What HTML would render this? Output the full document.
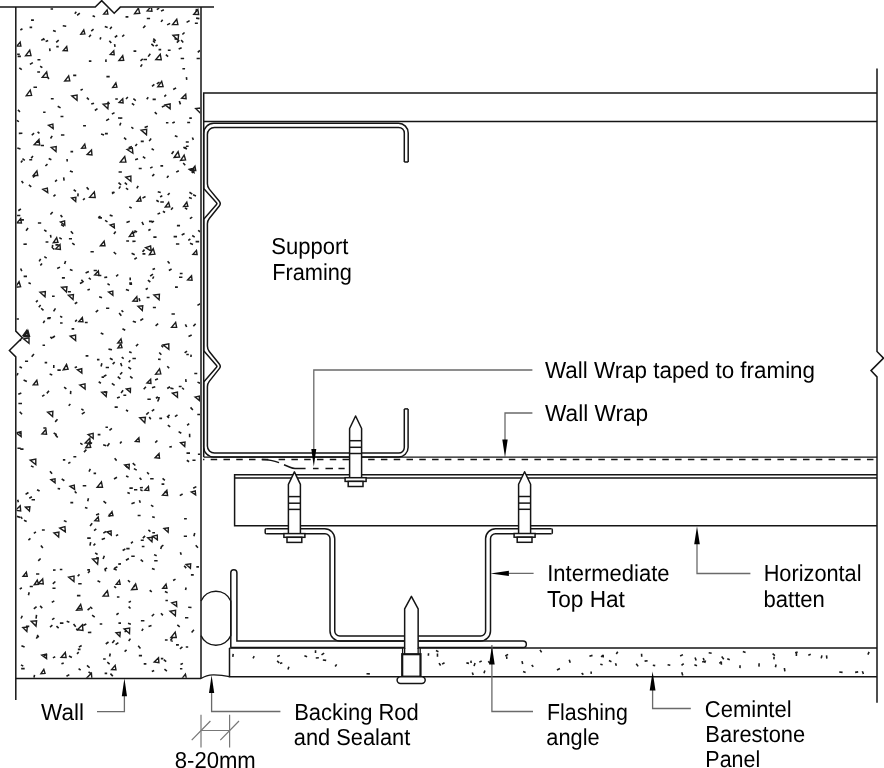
<!DOCTYPE html>
<html><head><meta charset="utf-8"><style>
html,body{margin:0;padding:0;background:#fff;}
body{width:884px;height:768px;overflow:hidden;}
svg{display:block;filter:grayscale(1);}
text{font-family:"Liberation Sans",sans-serif;font-size:23.1px;fill:#000;text-rendering:geometricPrecision;}
</style></head><body>
<svg width="884" height="768" viewBox="0 0 884 768">
<g fill="none" stroke="#151515" stroke-linecap="butt" stroke-linejoin="miter">
<clipPath id="wc"><path d="M16.6,7.9 V331.1 L22.3,337.7 L10.4,350.5 L16.6,356.9 V677.7 H200.2 V7.9 Z"/></clipPath>
<g clip-path="url(#wc)"><path d="M98.69,381.77L100.88,383.21M111.89,428.47L109.47,430.31M178.59,431.64L181.29,433.25M167.81,50.26L170.6,50.26M124.05,137.68L126.24,139.66M69.34,674.61L66.47,676.25M111.77,26.8L109.94,29M190.9,574.85L193.75,574.85M147.8,288.2L145.65,289.48M78.74,652.14L76.99,653.8M100.75,333.1L103.41,334.27M88.87,271.42L85.59,272.9M22.39,133.29L18.8,133.33M56.96,179.97L55.08,181.6M53.66,432.99L56.74,434.76M103.97,391.71L107.07,393.06M60.93,134.98L64.39,134.98M125.89,289.43L129.01,290.48M89.88,289.15L87.45,289.9M103.16,444.64L106.26,445.75M28.47,282.84L30.84,283.65M41.18,308.23L43.48,310.33M185.37,324.29L186.66,326.98M152.42,221.34L148.94,221.35M150.15,478.77L153.63,478.77M174.98,287.08L177.84,287.08M17.64,56.33L20.91,56.33M88.46,498.28L87.7,501.2M109.72,215.14L112.6,215.95M128.01,623.33L130.89,624.25M153.34,237.15L156.54,237.15M51.99,296.27L54.66,296.27M184.02,147.75L186.99,149.09M189.42,192.26L192.28,194.09M85.61,355.86L88.4,355.86M169.65,193.1L167.67,195.03M162.65,19.71L161.04,21.86M44.28,38.46L41.28,40.35M140.74,141.36L143.78,141.36M22.45,158.66L24.79,160.34M160.96,613.16L162.88,615.39M54.29,600.85L51.77,602.39M137.04,144.06L135.34,146.09M182.91,663.34L180.49,664.56M146.78,18.47L150.1,18.47M104.77,26.5L107.64,27.51M140.88,620.81L144.41,620.81M108.52,641.99L105.77,643.98M117.99,117.95L121.53,117.95M177.48,414.82L174.96,416.6M53.79,365.01L53.76,368.03M90.65,542.19L89.96,545.64M99.71,624L102.26,624M95.15,552.91L97.57,554.52M21.54,181.05L23.23,183.12M141.98,221.94L143.48,225.01M129.41,488.14L132.8,488.14M128.3,367.05L131.08,369.04M127.92,580.23L129.97,582.12M73.56,623.97L75.72,626.69M40.14,66.27L42.37,67.67M132.87,541.59L130.97,543.28M109.55,513.72L109.53,516.69M20.58,516.8L22.32,518.75M55.6,570.06L53.04,570.14M142.75,58.99L140.49,60.84M125.55,16.86L128.39,16.86M86.3,623.95L83.19,625.51M162.54,478.48L164.88,480.37M195.71,545.16L197.95,547.69M90.14,606.84L92.32,608.74M150.31,53.76L148.18,56.64M181.17,39.94L183.22,42.39M120.67,363.07L121.8,366.19M194.85,23.27L197.86,23.27M157.41,440.45L155.23,442.59M110.26,653.52L109.61,656.51M138.21,645.82L140.44,648.43M114.62,407.1L117.74,407.1M84.77,198.32L83.03,200.01M159.07,398.32L157.66,401.49M153.01,40.44L154.89,42.67M103.12,659.05L105.69,659.05M193.47,170.97L191.87,173.08M24.97,361.3L28.09,361.3M132.74,463.06L135.35,465.47M152.59,166.88L150.16,168.12M127.39,492.55L129.8,493.6M63.72,663.12L61.4,663.75M62.76,25.79L66.23,26.21M47.49,164.11L45.39,165.99M151.94,568.46L154.67,569.53M155,268.41L152.52,269.58M154.17,560.7L157.62,560.7M32.83,62.68L29.91,64.4M17.07,215.49L20.34,215.49M145.52,196.43L142.47,198.12M77.27,302.28L74.74,303.75M162.89,211.24L165.03,212.53M170.12,23.38L167.12,24.89M117.41,566.75L114.43,568.32M56.25,46.62L58.73,46.62M118.17,534.62L115.97,535.81M131.89,103.3L134.2,105.2M184.55,233.53L181.68,234.94M105.69,367.48L108.99,367.48M195.61,241.59L199.16,241.59M132.42,358.46L135.92,358.46M60.51,116.55L63.42,116.55M68.97,655.99L71.91,657.55M49.66,48.33L50.02,51.08M52.01,247.49L54.32,249.28M178.99,277.26L182.41,277.26M107.19,277.14L104.24,277.56M58.71,40.16L56.18,42.34M25.92,626.33L29.28,626.33M148.81,412.28L146.25,414.65M166.12,94.78L164.34,96.65M159.17,8.16L156.78,9.66M130.28,360.25L128.76,362.14M52.19,135.88L50.53,138.45M114.52,112.63L111.87,114.17M197.89,454.32L201.11,454.32M152.29,532.78L154.98,532.78M119.14,313.1L121.32,315.82M43.31,427.98L46.37,427.98M34.03,133.16L31.79,135.27M150.55,229.22L148.36,230.54M131.33,127.2L133.4,128.63M21.17,668.58L24.68,668.58M40.87,145.45L44.02,145.45M149.29,417.02L150.76,419.3M52.69,212.01L50.4,214.46M166.99,416.08L169.03,418.02M107.61,101.63L109.54,104.03M20.27,449.17L23.51,449.17M76.12,628.81L78.37,630.27M122.23,372.21L120.15,374.54M40.63,558.48L38.26,560.91M49.65,374.08L52.27,374.95M139.37,500.3L140.31,502.71M93.56,29.15L91.24,31.09M64.13,387.1L66.37,388.93M106.4,76.59L109.7,76.59M104.63,673.4L107.17,673.4M37.27,634.95L38.68,637.35M28.45,492.46L25.56,494.37M178.81,170.77L176.19,172.16M36.54,614.97L36.03,618.54M149.66,590.23L151.81,591.8M155.28,386.67L151.98,387.71M121.47,310.35L123.3,312.01M180.37,552.22L181.25,554.85M98.51,217.92L101.97,217.92M55.36,581.49L52.82,583.86M18.88,432.29L20.99,433.85M179.33,40.27L176.82,42.63M148.26,97.17L146.75,99.3M176.12,87.9L173.2,89.54M86.38,449.63L83.97,452.14M48.7,158.57L51.38,159.75M114.72,362.1L112.64,364.13M122.36,118.01L119.74,118.11M179.96,668.8L182.36,668.8M181.63,47.67L178.68,48.9M159.21,352.57L161.36,354.82M159.5,82.04L156.77,83.96M160.42,165.84L163.13,165.84M55.24,656.84L52.88,657.87M20,338.68L20.51,341.11M182.16,387.73L183.92,389.45M93.59,473.39L96.09,473.39M165.93,122.8L168.4,122.8M90.49,251.8L93.8,251.8M127.87,97.04L126,98.97M179.3,101.01L180.47,104.38M142.94,487.57L139.89,487.8M60.16,316.18L62.29,317.39M89.47,441.99L92.05,443.43M89.83,571.02L87.98,572.98M163.41,545.16L160.93,546.8M105.47,427.23L107.95,427.23M144.53,249.61L142.5,251.84M121.62,441.48L120.04,443.5M59.83,569.51L62.33,569.51M176.91,225.59L180.04,225.59M104.93,133.59L107.84,133.59M115.26,98.99L117.84,98.99M55.49,194.68L53.47,196.42M68.91,238.78L71.99,238.78M163.83,659.69L166.18,661.67M82.78,89.12L80.55,90.26M93.65,270.54L96.89,270.54M56.46,626.11L58.65,628.2M154.07,613.98L151.78,616.27M20.63,268.53L21.81,271.13M172.86,207.61L171.07,209.78M178.76,386.46L181.62,386.46M77.91,608.41L81.05,608.71M129.18,282.93L132.04,282.93M184.54,32.49L182.38,34.53M19.7,411.71L22.02,414.34M196.53,8.78L196.07,11.9M121,563.87L118.24,564.14M147.12,472.14L148.91,474.29M141.79,546.54L144.48,546.54M61.1,224.47L64.14,226.37M165.44,600.48L167.89,600.48M129.4,284.1L132.1,284.1M131.6,253.32L134.73,254.68M170.04,386.73L167.21,388.54M40.67,258.9L39.16,261.46M145.09,535.91L142.85,538.13M91.32,632.37L87.88,632.49M52.67,244.79L52.26,248.16M174.79,122.01L172.35,123.1M147.88,280.16L150.32,282M165.03,105.63L161.83,106.92M97.47,108.7L94.87,110.48M67.07,158.95L67.22,161.53M16.59,516.31L20.02,517.38M52.47,588.19L55.54,588.19M57.5,419.31L55.17,421.84M200.49,303.62L197.42,305.38M114.64,458.33L116.63,460.6M17.32,148.08L20.51,149.09M153.01,274.09L150.14,276.13M104.78,568.43L105.66,571.39M60,267.15L57.17,268.53M100.48,216.06L98.14,217.61M151.58,148.56L153.86,150.21M44.27,256.62L46.69,258.18M76.97,366.85L74.7,367.84M123.36,395.21L126.25,395.21M147.82,126.33L144.6,127.59M157.99,359.24L160.64,359.33M130.92,601.27L128.63,602.38M150.99,505.05L153.37,506.61M117.25,35.5L114.81,37.44M127.04,630.8L124.57,631.69M101.55,377.08L104.08,377.08M52.4,625.18L50.02,627.03M199.88,50.32L197.81,52.41M114.11,586.32L116.18,587.78M99.15,513.85L96.07,515.1M118.64,613.07L116.39,614.74M185.76,647.07L188.2,647.07M143.25,318.63L140.32,320.45M151.13,138.54L149.2,141.14M170.38,640.29L172.76,641.37M124.26,34.74L122.21,36.59M17.15,54.18L19.79,54.18M28.89,184.91L31.26,186.77M190.38,239L188.27,240.42M176.02,644.9L178.88,644.9M154.22,409.26L151.83,411.23M138.21,185.79L136.8,188.32M40.11,605.92L42.26,608.09M36.55,606.59L33.84,608.95M164.9,591.55L167.64,592.69M73.37,456.81L76.29,456.81M57.41,370.17L60.76,370.17M186.31,354.45L188.82,354.45M163.84,9.69L160.99,11.14M195.62,323.66L193.35,326.23M188.19,607.18L191.51,607.43M34.55,674.79L33.95,677.75M72.22,243.05L74.68,244.94M47.29,76.96L49.01,78.87M120.8,122.81L119.75,125.51M17.94,109.93L19.98,111.79M130.18,277.48L130.24,280.35M70.48,151.61L73.13,151.61M197.46,382.11L200.06,383.31M70.35,502.61L73.21,502.61M134.37,230.65L137.06,232.07M118.27,274.49L116.13,276.36M191.13,354.59L190.93,356.99M126.58,649.9L124.59,651.65M157.66,44.92L155.48,46.07M35.1,175.65L32.87,177.48M70.4,462.32L68.19,463.37M43.11,112.3L45.56,112.3M130.12,376.37L132.52,378.33M17.69,499.73L18.35,502.26M30.95,465.87L33.6,467.12M182.61,494.03L179.79,495.63M90.35,468.95L89.01,471.52M113.54,568.81L116.76,570.12M185.77,141.99L188.78,141.99M106.42,375.02L103.89,376.26M45.57,241.98L48.4,241.98M122.45,328.69L125.23,330.19M82.49,282.2L79.93,283.47M146.68,297.5L149.55,297.5M37.58,131.79L39.44,133.38M145.93,386.78L143.71,389.31M35.91,531.81L33.84,533.29M158.07,397.02L155.88,398.29M161.58,546.55L160.68,549.09M19.51,366.77L21.93,368.01M29.57,27.4L32.16,27.4M175.52,579.15L173.1,580.48M96.28,528.93L94.05,530.64M55.39,434.88L57.73,437.54M38.01,635.64L36.34,638.74M192.36,137.48L193.4,139.83M94.03,103.21L91.24,104.1M142.17,64.39L140.51,66.76M105.87,59.37L105.97,61.93M70.82,231.23L73.05,233.84M189.62,20.61L186.58,22.39M33.95,354.01L31.67,356.74M22.44,28.77L20.37,29.99M30.45,538.44L28.41,540.15M89.87,608.11L87.59,610.11M80.24,443.19L82.55,444.6M105.99,531.46L103.33,533.08M123.11,390.31L121.07,392.88M53.03,30.54L55.77,31.56M23.59,379.96L26.85,381.47M86.83,97.69L88.88,99.68M70.38,404.02L68.69,405.81M21.43,645.71L24.61,647.04M193.93,629.82L191.61,632.5M50.84,98.78L53.68,98.78M151.51,625.45L148.5,626.55M37.88,222.93L41.19,222.93M114.51,640.23L112.28,643.02M186.8,460.22L189.09,461.74M160.86,658.65L163.31,658.65M44.7,320.66L43.24,322.98M23.65,276.4L27.01,276.4M109.41,443.29L107.29,446.15M79.51,574.34L77.68,576.19M44.45,394.79L42.13,396.35M183.19,163.03L185.23,165.18M118.44,623.08L121.03,623.08M188.96,197.58L191.82,198.47M187.03,351.1L184.63,352.9M170.41,388.16L173.53,388.72M193.08,194.87L195.99,195.93M90.92,34.73L88.97,37.09M191.69,334.98L188.51,336.47M133.9,468.6L136.76,470.09M161.55,484.1L164.31,484.1M59.91,623.17L63.43,623.17M133.52,51.15L136.29,51.15M49.99,471.16L52.06,473.73M139.01,298.33L139.89,301.29M189.6,433.84L189.69,437.3M107.3,662.16L109.66,664.03M73.66,189.78L75.99,191.33M185,617.8L188.33,617.8M78.09,193.37L77.88,196.33M154.27,174.07L152.25,176.13M77.86,649.36L80.52,649.36M183.77,536.28L186.99,536.28M157.95,378.74L155.09,379.95M92.6,15.67L95,16.71M194.75,533.05L193.89,536.18M99.12,296.82L102.01,297.82M15.84,318.97L18.93,318.97M153.76,276.51L152.63,278.74M118.57,172.05L121.85,172.05M131.94,146.52L128.64,147.72M132.12,232.57L135.41,232.57M174.83,135.68L177.5,136.66M98.15,310.07L95.74,312.08M31.56,499.72L35.03,499.72M29.26,159.73L32.18,159.73M138.02,158.65L135.13,159.72M87.28,569.89L89.95,569.89M88.52,671.79L91.28,673.75M171.6,269.03L168.86,270.47M61.7,478.82L64.37,480.76M125.32,549.01L122.64,550.43M109.11,118.86L106.13,120.66M192.45,460.25L195.54,460.25M189.97,243.36L193,244.46M167.61,261.18L169.6,263.49M88.77,277.84L90.83,279.5M22.28,615.79L21.03,618.51M145.37,25.61L143.14,27.97M76.93,595.66L80.43,595.66M162.29,195.53L160.18,197.01M192.2,235.51L194.72,237.08M126.22,240.93L129.06,240.93M57.62,488.53L60.11,488.9M26.77,244.13L23.42,244.29M92.12,615.1L94.73,617.02M76.9,319.93L75.1,321.53M184.88,207.84L187.24,209.19M36.06,573.99L39.29,573.99M107.46,283.63L109.72,285.18M69.86,269.55L72.55,270.46M185.71,379.16L186.05,382.01M119.44,596.98L116.91,597.05M115.7,231.5L113.87,233.9M196.6,58.54L199.86,58.54M155.95,307.43L152.85,307.53M47.11,318.41L50.29,318.41M164.45,669.14L166.9,671.08M60.52,215.13L62.34,217.14M164.46,491.91L167.62,493.01M134.72,502.61L131.45,503.8M154.01,221.07L151.54,222.52M168.57,175.73L166.89,177.83M66.69,621.34L69.38,622.29M186.49,453.13L190.01,453.13M76.34,11.8L74.76,13.67M20.95,664.91L23.27,666.17M17.44,448.31L20.71,448.31M29.72,586.49L32.87,586.49M152.19,516.68L154.77,517.57M128.64,606.7L130.5,608.47M78.58,668.54L80.66,670.14M36.08,142.17L38.97,142.17M84.95,507.39L87.46,508.17M79.79,13.07L77.1,15.36M42,263.43L40.34,265.59M69.87,170.98L72.82,172.09M173.6,236.64L177.04,236.64M84.75,412.04L81.77,414.06M171.85,446.6L169.31,446.92M158.56,49.58L161.19,49.58M97.53,580.8L100.26,582.15M65.62,260.95L64.57,263.92M132.77,321.31L135.96,322.36M48.21,317.7L50.9,317.7M148.41,529.98L150.41,531.56M125.55,465.38L127.68,467.61M138.83,655.58L142.04,655.58M63.66,177.44L64.1,180.58M22.48,160.44L20.89,162.45M128.91,558.49L125.94,560.26M119.78,396.88L117.03,397.91M67.79,291.75L70.91,291.75M108.47,349.14L111.99,349.8M160.29,202.06L163.85,202.06M143.11,628.76L141.78,630.82M88.87,61.14L91.39,61.14M57.69,106.33L60.58,107.86M16.21,120.27L18.98,121.6M44.15,229.93L46.5,231.46M41.9,529.97L44.78,529.97M184.06,518.74L186.82,518.74M183.22,147.46L186.36,147.46M74.71,491.43L76.54,493.23M118.4,642.59L115.57,644.56M124.75,182.69L127.01,184.6M37.22,71.98L40.05,71.98M83.07,125.76L85.96,125.76M136.91,257.67L134.39,259.22M120.41,186.38L118.9,188.63M73.13,75.33L76.29,75.33M143.72,663.86L146.39,663.86M175.93,244.02L179.3,244.02M71.59,328.89L74.22,328.89M37.46,59.79L40.42,59.79M105.08,220.39L107.47,221.9M186.13,587.45L185.52,589.99M138.21,344.04L135.97,346.18M182.45,646.93L179.91,648.89M44.66,362.6L47.17,362.6M42.26,39.56L44.83,39.56M48.99,390.78L46.84,393.37M18.2,373.17L16.22,375.66M137.63,515.49L140.58,515.49M62.88,459.92L65.28,459.92M196.34,566.87L198.95,566.87M154.03,554.63L156.68,555.83M182.38,68.75L185.07,68.8M133.99,489.68L137.32,489.68M161.39,345.35L163.15,347.25M111.85,383.38L114.6,385.38M21.12,219.89L23.93,219.89M50.5,234.97L50.96,237.57M84.84,322.48L87.66,322.48M104.97,538.24L101.68,539.58M190.13,122.45L187.18,122.53M180.67,58.47L184.11,58.47M109.34,40.66L111.28,43.09M165.88,54.69L168.1,56.71M160.13,213.06L157.5,214.13M100.76,37.2L100.15,39.53M154.73,112.16L156.81,114.08M96.95,359.66L99.46,359.66M86.65,187.15L88.69,189.62M101.89,363.19L101.05,366.49M167.27,366.21L169.18,368.32M189.29,118.13L191.82,118.13M131.26,556.32L134.72,556.32M157.74,191.66L160.74,192.45M143.46,59.53L146.98,59.53M40.62,305.03L38.79,307.22M109.82,358.31L112.69,359.83M54.43,618.18L52.06,619.62M19.29,67.76L21.81,69.71M33.47,87.18L37.03,87.18M196.35,486.6L193.2,488.24M126.06,476.09L128.49,477.06M154.36,84.44L151.99,86.41M31.9,496.79L29.28,498.28M153.3,38.72L155.72,40.81M142.47,253.92L145.42,253.92M55.5,308.33L53.57,311.35M184.18,565.64L186.22,568.12M21.84,587.75L19.74,589.11M135.59,241.31L132.39,241.42M126.27,548.61L129.6,548.61M126,410.06L128.07,411.29M167.84,425.02L170.18,426.82M179.8,273.44L182.58,273.44M29.19,592.23L28.45,595.26M95.31,543.59L93.49,545.56M20.9,208.8L18.32,210.76M81.37,279.71L83.59,282.34M151.37,43.81L153.85,46.12M37.76,300.37L35.96,302.06M96.26,557.51L98.89,558.36M129.74,221.36L126.47,222.55M81.34,408.87L83.56,410.35M147.39,399.22L150.82,399.22M106.04,308.19L109.26,308.19M37.05,489.69L39.6,491.07M111.8,192.43L114.64,192.43M50.59,8.94L53.06,8.94M48.16,40.43L45.61,41.41M31.05,20.1L33.89,20.1M192.28,217.16L189.86,218.62M129.12,351.83L131.63,352.82M47.19,654.58L43.92,655.47M173.66,151.2L171.63,153.98M174.49,38.46L176.77,39.54M114.55,44.22L115.04,46.87M87.2,538.15L90.73,538.15M142.87,156.68L145.31,158.44M78.21,583.68L81.66,583.68M86.99,665.34L89.65,667.76M60.06,322.99L62.6,322.99M133.35,98.64L135.8,100.53M97.89,275.47L101.35,275.47M50.38,336.85L52.11,338.62M158.16,323.67L155.59,325.76M177.3,624.99L179.71,626.89M113.72,252L116.11,254.25M171.5,313.99L174.88,313.99M140.23,489.61L142.56,490.69M169.56,414.77L167.24,417.39M130.43,638.62L128.68,640.95M172.38,638.04L170.61,640.33M186.04,146.2L188.62,146.2M21.32,392.9L18.3,394.16M118.51,182.58L121.06,184.94M81.66,645.47L78.87,647.19M156.5,396.93L159.77,398.08M101.07,134.07L104.06,134.99M189.17,423.57L187.13,425.34M135.25,585.02L133.72,587.04M40.9,545.47L42.83,548.04M117.75,376.54L120.36,378.93M70.75,390.87L70.56,394.1M140.68,559.68L143.05,561.67M140.74,540.21L143.77,540.21M114.39,191.72L112.18,193.83M156.38,200.2L158.78,201.7M42.53,345.18L45.04,345.18M18.38,403.55L21.97,403.55M107.13,567.99L104.86,569.05M139.61,477.64L141.43,479.86M129.28,206.93L131.69,207.93M110.42,673.58L112.82,676.12M97.68,434.61L100.43,434.61M159.31,418.34L162.1,418.34M190.56,407.35L192.86,409.99M59.3,237.64L61.75,239.2M125.94,188.13L128.18,189.61M194.27,373.55L197.27,373.55M197.28,414.52L200.16,414.52M121.69,357.06L123.71,358.55M196.13,18.1L199.43,18.65M186.4,77.03L186.75,79.87M104.34,555.74L103.09,559M138.72,168.54L141.7,168.54M54.93,335.98L52.36,337.78M28.03,228.01L26.07,230.66M198.07,230.3L200.33,231.76M154.16,670.43L151.8,671.59M63.83,520.62L66.55,521.73M116.99,477.29L113.99,478.96M32.95,155.93L31.22,158.28M164.9,640.07L167.62,640.07M92.2,523.31L90.08,525.99M55.43,244.88L58.71,244.88M61.89,277.86L64.92,277.86M82.71,485.8L86.25,485.8M103.5,501.22L106.16,503.36M152.61,99.36L155.8,99.36M23.99,520.23L26.67,521.49" stroke-width="1.6" stroke="#1c1c1c"/>
<path d="M107.1,9.9 L103.66,14.06 L107.88,14.13ZM138.37,8.14 L134.56,13.61 L139.75,13.27ZM151.3,6.4 L147.19,10.86 L151.92,11.19ZM197.85,9.56 L193.79,14.32 L198.67,14.48ZM176.77,19.26 L172.57,24.61 L177.88,24.57ZM83.75,29.9 L80.82,34.16 L84.85,33.87ZM173.08,35.39 L178.08,40.24 L178.59,34.82ZM20.15,42.12 L16.85,46.07 L20.87,46.15ZM66.72,46.56 L63.26,50.6 L67.42,50.74ZM29.72,50.16 L25.57,55.74 L31,55.55ZM113.78,50.77 L110.28,54.36 L114.18,54.74ZM122.71,55.67 L118.94,60.46 L123.7,60.42ZM160.28,54.24 L155.84,59.59 L161.27,59.69ZM46.66,71.94 L42.26,77.3 L47.68,77.37ZM68.65,75.89 L64.73,81.03 L69.78,80.92ZM115.85,83 L112.68,87.42 L116.92,87.2ZM161.69,81.31 L157.82,86.83 L163.08,86.5ZM30.23,90.12 L26.29,95.61 L31.56,95.33ZM71.83,96 L77.03,100.24 L77.08,95ZM122.76,98.84 L119.08,102.46 L123.09,102.94ZM103.16,104.3 L107.87,108.66 L108.23,103.66ZM185.7,94.19 L181.65,98.27 L186.12,98.75ZM165.18,104.9 L170.12,108.89 L170.14,103.94ZM195.68,108.49 L200.67,113.34 L201.2,107.93ZM48.46,125.22 L53.15,128.5 L52.86,124.04ZM141.15,130.14 L146.46,134.74 L146.67,129.26ZM38.96,139.45 L34.16,144.72 L39.72,145.08ZM51.26,147.43 L56.01,151.53 L56.2,146.63ZM84.74,144.06 L81.64,148.16 L85.66,148.05ZM91.51,150.03 L87.19,154.39 L91.95,154.9ZM127.09,149.51 L132.89,153.22 L132.32,147.87ZM124.77,156.52 L120.31,162.12 L125.9,162.11ZM178.12,151.74 L174.17,157.39 L179.54,157.04ZM184.13,155.08 L180.64,160.32 L185.54,159.89ZM194.94,166.15 L191.41,170.4 L195.72,170.48ZM36.91,170.88 L33.17,175.45 L37.78,175.5ZM189.2,169.32 L194.02,172.62 L193.68,168.07ZM125.78,177.2 L130.92,181.22 L130.86,176.13ZM42.9,189.36 L47.73,192.58 L47.34,188.06ZM94.31,191.9 L89.6,197.29 L95.18,197.53ZM71.64,198.02 L75.7,201.61 L75.91,197.38ZM140.16,197.14 L137.02,201.27 L141.07,201.17ZM168.64,202.35 L165.24,207.04 L169.76,206.83ZM186.78,202.07 L183.54,206.54 L187.85,206.34ZM20.71,218.54 L17.03,222.79 L21.42,222.96ZM60.42,221.97 L64.81,225.09 L64.57,220.9ZM110.08,224.94 L114.37,227.9 L114.09,223.84ZM132.73,231.62 L129.34,236.37 L133.89,236.12ZM56.69,237.72 L53.33,242.69 L58,242.31ZM104.11,241.2 L100.38,245.72 L104.96,245.8ZM60,244.57 L55.71,248.85 L60.41,249.38ZM145.62,247.6 L151.19,251.08 L150.59,245.98ZM153.24,248.73 L149.42,254.63 L154.88,254.08ZM196.45,250.37 L192.94,254.38 L197.1,254.57ZM98.33,270.91 L94.63,275.01 L98.94,275.26ZM191.54,275.77 L187.61,279.91 L192.05,280.29ZM19.04,281.71 L15.48,287.28 L20.61,286.74ZM61.56,287.33 L66.41,292.07 L66.93,286.8ZM40,292.22 L45,296.8 L45.36,291.52ZM68.41,295.19 L73.02,299.56 L73.43,294.61ZM108.5,291.98 L112.9,295.29 L112.77,291ZM136.78,296.67 L132.94,301.03 L137.47,301.24ZM153.9,295.08 L159.09,299.78 L159.42,294.32ZM137.96,306.33 L142.28,310.56 L142.75,305.86ZM82.35,317.56 L78.84,321.59 L83,321.76ZM175.63,322.32 L171.56,327.37 L176.63,327.39ZM26.87,330.24 L23.09,335.51 L28.15,335.25ZM28.03,330.84 L24.02,336.69 L29.54,336.28ZM23.65,338.96 L29,343.31 L29.04,337.92ZM70.25,336.23 L75.63,340.44 L75.57,335.1ZM121,338.81 L117.76,342.99 L121.89,342.93ZM120.83,343.66 L117.92,348 L121.99,347.66ZM163.2,344.95 L168.85,349.37 L168.79,343.78ZM66.53,364.47 L63.24,369.76 L68.08,369.19ZM77.32,369.73 L81.86,373.17 L81.74,368.72ZM159.53,368.79 L155.62,374.14 L160.79,373.91ZM36.84,380.3 L33.26,384.85 L37.78,384.82ZM79.78,385.01 L85.12,389.05 L84.98,383.82ZM150.65,379.37 L147.01,382.94 L150.96,383.42ZM101.66,392.2 L106.17,396.53 L106.61,391.67ZM126.4,389.01 L130.37,392.39 L130.49,388.32ZM172.41,393.22 L177.5,397.2 L177.44,392.15ZM195.03,397.02 L199.34,400.44 L199.33,396.15ZM47.64,412.11 L52.59,416.49 L52.85,411.34ZM139.76,417.8 L144.76,422.84 L145.4,417.33ZM16.22,432.88 L21.14,436.5 L20.95,431.73ZM45.91,429.58 L42.01,433.91 L46.55,434.18ZM88.09,434.51 L93.21,438.51 L93.15,433.44ZM89.79,438.26 L85.25,442.94 L90.31,443.42ZM89.2,442.44 L85.76,447.76 L90.68,447.27ZM138.89,437.73 L135.36,441.4 L139.32,441.76ZM180.58,442.72 L184.72,446.52 L185.02,442.15ZM159.06,453.6 L155.1,457.68 L159.52,458.1ZM30.26,460.24 L35.79,464.66 L35.79,459.14ZM124.66,464.91 L129.04,468.78 L129.27,464.22ZM50.95,479.59 L55.05,482.83 L55.03,478.75ZM70.06,486.31 L74.58,489.37 L74.24,485.13ZM101.41,481.84 L97.11,487.23 L102.49,487.22ZM148.41,486.43 L144.83,490.1 L148.82,490.49ZM166.86,490.32 L162.56,495.12 L167.59,495.4ZM191.25,491.97 L195.61,494.89 L195.26,490.8ZM20.23,505.69 L15.62,510.29 L20.67,510.86ZM25.45,507.13 L29.42,511.09 L29.9,506.74ZM98.2,516.86 L94.82,520.71 L98.82,520.89ZM111.98,511.57 L109.01,515.68 L112.96,515.48ZM59.84,528.07 L65.32,531.8 L64.93,526.64ZM54.01,532.9 L58.65,537.05 L58.92,532.19ZM107.01,531.93 L111.21,535.1 L111.09,530.99ZM163.98,528.59 L168.15,532.26 L168.35,527.93ZM147.72,537.72 L151.94,541.75 L152.34,537.21ZM152.57,536.25 L157.38,539.9 L157.26,535.19ZM92.53,559.12 L97.6,564.13 L98.18,558.6ZM186.09,564.5 L190.41,568.38 L190.67,563.85ZM26.32,572.09 L23.04,576.31 L27.21,576.25ZM37.25,580.1 L34.24,584.76 L38.55,584.32ZM42.66,578.94 L38.4,583.5 L43.27,583.87ZM68.69,577.15 L73.96,581.51 L74.04,576.17ZM119.36,580.44 L116.26,584.37 L120.17,584.34ZM135.63,583.82 L131.62,589.71 L137.17,589.28ZM166.01,584.11 L162.76,588.29 L166.9,588.23ZM107.41,590.74 L103.11,596.12 L108.49,596.12ZM171.86,602.82 L176.72,606.34 L176.49,601.66ZM170.04,611.23 L175.37,615.85 L175.58,610.35ZM80.66,604.42 L76.58,610.3 L82.16,609.92ZM31.15,621.28 L36,626.12 L36.59,620.8ZM22.83,627.55 L26.85,631.48 L27.28,627.11ZM82.46,624.78 L77.51,629.76 L82.96,630.34ZM116.06,632.73 L119.84,636.45 L120.27,632.33ZM124.12,628.94 L129.49,633.55 L129.68,628.03ZM175.19,632.14 L170.93,637.53 L176.29,637.5ZM41.8,655.09 L46.57,658.65 L46.41,654.01ZM65.28,652.44 L61.15,657.24 L66.09,657.41ZM158.52,657.78 L154.2,662.04 L158.9,662.59ZM43.81,669.32 L40.93,673.75 L45.03,673.34ZM115.14,665.33 L111.59,669.62 L115.94,669.69ZM91.42,673.25 L86.34,678.26 L91.87,678.92ZM185.42,674.08 L181.86,678.68 L186.4,678.61Z" stroke-width="1.4" stroke="#1c1c1c" fill="none"/></g>
<path d="M862.34,671.27L863.44,673.95M636.25,663.8L638.11,666.36M435.96,650.52L438.46,651.68M858.17,671.89L855.13,672.36M721.3,661.59L721.38,664.83M472.28,672.55L473.24,675.01M439.02,663.09L440.64,665.42M592.51,655.38L589.42,656.36M869.1,651.81L867.91,654.58M705.59,660.52L704.57,662.88M727.26,658.7L729.76,659.71M279.87,655.36L277.24,656.53M615.5,663.15L616.36,665.8M694.39,664.66L697.01,665.66M277.13,660.94L279.21,662.85M603.08,655.18L601.07,656.76M591.1,671.47L591.26,673.87M708.68,652.68L711.65,653.23M608.93,660.53L611.43,661.75M703.23,657.91L704.09,660.49M683.7,663.53L681.49,665.4M484.86,670.54L484,673.29M322.84,660L326.18,660.39M647.63,660.67L644.58,661.15M641.57,653.68L641.72,656.68M821.92,655.37L821.23,658.32M233.19,653.93L232.8,656.9M318.85,657.81L315.76,658.06M740.04,665.18L739.98,668.14M488.28,661.13L489.94,663.2M531.68,664.89L533.31,666.85M521.98,661.14L522.69,664.04M508.06,654.38L505.3,655.93M540.01,649.85L541.63,652.38M704.71,661.75L702.11,661.77M523.05,671.57L525.62,672.52M324.18,653.08L321.5,654.85M506.67,656.51L506.84,658.93M742.85,651.42L745.57,652.49M470.93,660.63L471.12,663.04M784.41,668.01L784.86,671.31M466.38,662.88L468.97,663.39M603.16,654.71L603.2,657.48M437.46,653.47L437.48,656.67M695.05,657.4L696.17,660.54M444.53,662.72L442.09,664.18M336.66,664.34L335.15,666.54M826.55,655.36L826.83,658.6M839.22,671.99L842.59,672.38M475.02,663.1L474.09,666.14M810.73,654.25L808.31,655.24M652.81,665.17L655.23,665.61M315.55,650.16L315.51,653.04M428.53,653.24L428.36,655.81M774.06,656.69L773.91,659.36M721.68,656.6L723.77,659.22M667.59,664.8L670.31,665.32M481.68,661.08L479.29,662.14M254.21,656.2L253.01,658.37M288.9,666.82L287.96,669.59M796.46,652.75L796.38,656.06M559.93,668.57L556.93,670.05M581.61,673.05L583.39,674.71M617.79,651.7L616.28,653.97M797.62,652.12L795.1,652.71M600.28,664.21L602.63,664.72M759.12,663.19L758.96,666.59M682.96,654.63L680.14,656.03M772.61,653.56L774.92,655.59M366.49,673.75L369.84,673.91M776.09,664.5L775.43,667.24M304.41,655.76L307.11,656.73M681.76,672.18L682.77,675.42M282.31,662.75L279.97,663.51M569.23,659.73L570.23,662.83M721.42,661.75L719.35,663.38" stroke-width="1.6" stroke="#1c1c1c"/>
<path d="M0,7.1 H95.2 L101.7,0.6 L114.2,13.3 L120.3,7.1 H214" stroke-width="1.5" />
<path d="M15.8,7.1 V331.1 L22.3,337.7 L9.4,350.5 L15.8,356.9 V700" stroke-width="1.5" />
<path d="M201,7.1 V678.5" stroke-width="1.5" />
<path d="M15.8,678.5 H201" stroke-width="1.5" />
<path d="M877,93.1 H203.7 V457" stroke-width="1.5" />
<path d="M203.7,121.6 H877" stroke-width="1.5" />
<path d="M877,68.6 V351.5 L883.5,358.1 L871,370.6 L877,376.9 V702.7" stroke-width="1.5" />
<path d="M408.2,162 V133 A9.7,9.7 0 0 0 398.5,123.3 H213.7 A10,10 0 0 0 203.7,133.3 V188.4 L216.50,202.71 Q217.30,203.60 216.51,204.50 L203.7,219.2 V350.7 L216.51,365.40 Q217.30,366.30 216.51,367.21 L203.7,382 V447 A10,10 0 0 0 213.7,457 H398.5 A9.5,9.5 0 0 0 408.1,447.5 V408.9" stroke-width="1.5" />
<path d="M404.3,162 V133 A5.6,5.6 0 0 0 398.7,127.4 H214.4 A7,7 0 0 0 207.4,134.4 V183.80 Q207.40,186.80 209.30,189.12 L219.30,201.28 Q221.20,203.60 219.32,205.94 L209.28,218.46 Q207.40,220.80 207.4,223.80 V346.10 Q207.40,349.10 209.28,351.44 L219.32,363.96 Q221.20,366.30 219.34,368.65 L209.26,381.35 Q207.40,383.70 207.4,386.70 V446.1 A7,7 0 0 0 214.4,453.1 H398.7 A5.6,5.6 0 0 0 404.3,447.5 V408.9" stroke-width="1.5" />
<path d="M404.3,162 H408.2" stroke-width="1.5" />
<path d="M404.3,408.9 H408.1" stroke-width="1.5" />
<path d="M203.7,457.2 H877" stroke-width="1.3" />
<path d="M203,459.6 H268.3" stroke-width="1.5" stroke-dasharray="6.5 6.28" stroke-dashoffset="5.1"/>
<path d="M278.6,459.6 H877" stroke-width="1.5" stroke-dasharray="6.5 6.29"/>
<path d="M261.8,459.4 C268,459.5 274,460.6 279,462.6 L290,467.2 C291.6,467.9 293.2,468.4 295,468.4 H346" stroke-width="1.5" stroke-dasharray="17.6 5.4 22.2 7.4 5.6 6.9 7.5 5.5 6.2 100"/>
<path d="M877,474.8 H234.6 V525.8 H877" stroke-width="1.5" />
<path d="M234.6,478 H877" stroke-width="1.5" />
<path d="M266.2,528.8 H324.75 A10,10 0 0 1 334.75,538.7 V631 A5,5 0 0 0 339.75,636 H480.6 A5,5 0 0 0 485.6,631 V538.6 A10,10 0 0 1 495.6,528.7 H551.3" stroke-width="1.5" />
<path d="M266.2,533.7 H325 A5,5 0 0 1 330,538.8 V631 A10,10 0 0 0 340,641 H480.5 A10,10 0 0 0 490.5,631 V538.9 A5,5 0 0 1 495.5,533.8 H551.3" stroke-width="1.5" />
<path d="M266.2,528.8 Q265.2,528.8 265.2,529.8 V532.7 Q265.2,533.7 266.2,533.7" stroke-width="1.5" />
<path d="M551.3,528.7 Q552.3,528.7 552.3,529.7 V532.8 Q552.3,533.8 551.3,533.8" stroke-width="1.5" />
<path d="M230.8,647.6 V572.8 A3.05,3.05 0 0 1 236.9,572.8 V640.9 H523 A3.35,3.35 0 0 1 523,647.6 H230.8" stroke-width="1.5" />
<path d="M229.5,648 V676.7 H877" stroke-width="1.5" />
<path d="M229.5,648 H877" stroke-width="1.6" />
<path d="M201,601 A16.3,16.3 0 0 1 230.8,601 V635.6 A16.3,16.3 0 0 1 201,635.6" stroke-width="1.4" />
<path d="M201,678.5 Q207,674.5 214,674.8 Q222,675 229.5,676.7" stroke-width="1.3" />
<path d="M349.6,477.7 V428.5 L355.6,416 L361.6,428.5 V477.7" stroke-width="1.5" fill="#fff" stroke-linejoin="round"/>
<path d="M349.6,440.7 H361.6" stroke-width="1.5"/>
<path d="M349.6,447.3 H361.6" stroke-width="1.5"/>
<path d="M349.6,453.5 H361.6" stroke-width="1.5"/>
<rect x="345.1" y="477.7" width="21" height="3.7" stroke-width="1.5" fill="#fff"/>
<rect x="348.2" y="481.4" width="14.8" height="5.1" stroke-width="1.5" fill="#fff"/>
<path d="M288.4,533.6 V484.4 L294.4,471.9 L300.4,484.4 V533.6" stroke-width="1.5" fill="#fff" stroke-linejoin="round"/>
<path d="M288.4,496.6 H300.4" stroke-width="1.5"/>
<path d="M288.4,503.2 H300.4" stroke-width="1.5"/>
<path d="M288.4,509.4 H300.4" stroke-width="1.5"/>
<rect x="283.9" y="533.6" width="21" height="3.7" stroke-width="1.5" fill="#fff"/>
<rect x="287" y="537.3" width="14.8" height="5.1" stroke-width="1.5" fill="#fff"/>
<path d="M518.6,533.5 V484.3 L524.6,471.8 L530.6,484.3 V533.5" stroke-width="1.5" fill="#fff" stroke-linejoin="round"/>
<path d="M518.6,496.5 H530.6" stroke-width="1.5"/>
<path d="M518.6,503.1 H530.6" stroke-width="1.5"/>
<path d="M518.6,509.3 H530.6" stroke-width="1.5"/>
<rect x="514.1" y="533.5" width="21" height="3.7" stroke-width="1.5" fill="#fff"/>
<rect x="517.2" y="537.2" width="14.8" height="5.1" stroke-width="1.5" fill="#fff"/>
<path d="M404.65,654.2 V608.8 L411.4,596.3 L418.15,608.8 V654.2" stroke-width="1.5" fill="#fff" stroke-linejoin="round"/>
<rect x="402.2" y="648.8" width="18.3" height="5.4" fill="#fff" stroke="none"/>
<path d="M402.6,648 V654.2 M420.2,648 V654.2 M404.65,648 V654.2 M418.15,648 V654.2" stroke-width="1.3"/>
<rect x="402.2" y="654.2" width="18.3" height="22.5" stroke-width="2.2" fill="#fff"/>
<rect x="397.1" y="676.7" width="28.1" height="6.8" rx="3.4" stroke-width="1.5" fill="#fff"/>
<path d="M532.4,370 H313.8 V455" stroke-width="1.3" stroke="#6a6a6a"/>
<path d="M313.8,466.7 L311.3,449 L316.3,449 Z" fill="#000" stroke="none"/>
<path d="M532.4,413 H505 V445" stroke-width="1.3" stroke="#6a6a6a"/>
<path d="M505,457.4 L502.3,439.4 L507.7,439.4 Z" fill="#000" stroke="none"/>
<path d="M533.6,573.4 H500" stroke-width="1.3" stroke="#6a6a6a"/>
<path d="M490.4,573.4 L508.9,570.8 L508.9,576 Z" fill="#000" stroke="none"/>
<path d="M750.4,573.5 H697 V535" stroke-width="1.3" stroke="#6a6a6a"/>
<path d="M697,526.2 L699.8,544.2 L694.2,544.2 Z" fill="#000" stroke="none"/>
<path d="M97,711.6 H124.4 V690" stroke-width="1.3" stroke="#6a6a6a"/>
<path d="M124.4,678.2 L127,696.2 L121.8,696.2 Z" fill="#000" stroke="none"/>
<path d="M280.4,711.5 H211.6 V685" stroke-width="1.3" stroke="#6a6a6a"/>
<path d="M211.6,675.3 L214.2,693 L209,693 Z" fill="#000" stroke="none"/>
<path d="M533,711.5 H491.9 V645" stroke-width="1.3" stroke="#6a6a6a"/>
<path d="M491.9,646 L494.7,664.4 L489.1,664.4 Z" fill="#000" stroke="none"/>
<path d="M690.8,708.5 H652.6 V685" stroke-width="1.3" stroke="#6a6a6a"/>
<path d="M652.6,671.6 L655.5,690.6 L649.7,690.6 Z" fill="#000" stroke="none"/>
<path d="M201,714.8 V747.6 M229.6,714.8 V747.6 M201,730.5 H229.6" stroke-width="1.2" stroke="#777"/>
<path d="M191.7,740.2 L210.4,721 M220.3,740.2 L239,721" stroke-width="1.2" stroke="#777"/>
</g>
<g>
<text transform="translate(271.25,253.70) scale(0.9538,1)">Support</text>
<text transform="translate(272.16,279.60) scale(0.9422,1)">Framing</text>
<text transform="translate(545.00,377.90) scale(0.9694,1)">Wall Wrap taped to framing</text>
<text transform="translate(545.00,420.90) scale(0.981,1)">Wall Wrap</text>
<text transform="translate(547.25,581.00) scale(0.9528,1)">Intermediate</text>
<text transform="translate(546.90,606.70) scale(0.98,1)">Top Hat</text>
<text transform="translate(763.66,581.00) scale(0.9412,1)">Horizontal</text>
<text transform="translate(763.44,606.70) scale(0.9565,1)">batten</text>
<text transform="translate(41.00,719.70) scale(0.9733,1)">Wall</text>
<text transform="translate(294.15,719.80) scale(0.9519,1)">Backing Rod</text>
<text transform="translate(293.75,744.80) scale(0.9451,1)">and Sealant</text>
<text transform="translate(174.74,767.60) scale(0.9566,1)">8-20mm</text>
<text transform="translate(547.08,719.80) scale(0.9244,1)">Flashing</text>
<text transform="translate(546.36,744.70) scale(0.9436,1)">angle</text>
<text transform="translate(704.85,716.50) scale(0.9517,1)">Cemintel</text>
<text transform="translate(705.35,742.00) scale(0.9481,1)">Barestone</text>
<text transform="translate(705.37,767.30) scale(0.9281,1)">Panel</text>
</g>
</svg>
</body></html>
